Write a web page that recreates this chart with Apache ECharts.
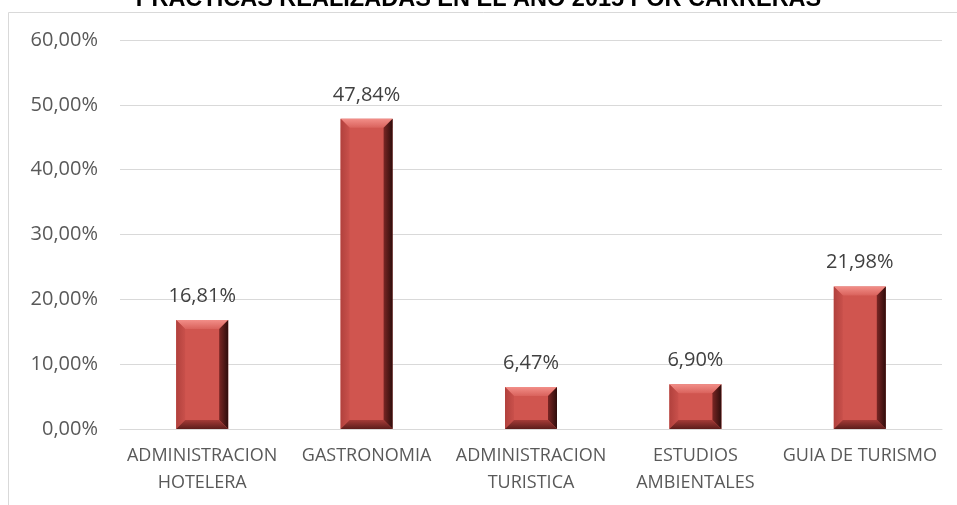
<!DOCTYPE html>
<html><head><meta charset="utf-8">
<script src="https://cdn.jsdelivr.net/npm/echarts@6/dist/echarts.min.js"></script>
<style>html,body{margin:0;padding:0;background:#fff}#c{width:957px;height:505px}</style>
</head><body><div id="c"></div>
<script>
const titleText = 'PRACTICAS REALIZADAS EN EL AÑO 2015 POR CARRERAS';
const categories = ['ADMINISTRACION\nHOTELERA', 'GASTRONOMIA', 'ADMINISTRACION\nTURISTICA', 'ESTUDIOS\nAMBIENTALES', 'GUIA DE TURISMO'];
const values = [16.81, 47.84, 6.47, 6.90, 21.98];
const yTicks = [0, 10, 20, 30, 40, 50, 60];

const fmt = v => v.toFixed(2).replace('.', ',') + '%';
const BW = 52, BV = 9;
function renderBevelBar(params, api) {
  const top = api.coord([api.value(0), api.value(1)]);
  const bot = api.coord([api.value(0), 0]);
  const x0 = top[0] - BW / 2, x1 = top[0] + BW / 2, y0 = top[1], y1 = bot[1];
  const b = Math.min(BV, (y1 - y0) / 2);
  const lg = (x2, y2, stops) => new echarts.graphic.LinearGradient(0, 0, x2, y2, stops.map((c, i) => ({ offset: i / (stops.length - 1), color: c })));
  const poly = (pts, fill) => ({ type: 'polygon', shape: { points: pts }, style: { fill: fill } });
  return { type: 'group', children: [
    { type: 'rect', shape: { x: x0, y: y0, width: BW, height: y1 - y0 }, style: { fill: '#d0554f' } },
    poly([[x0, y0], [x1, y0], [x1 - b, y0 + b], [x0 + b, y0 + b]], lg(0, 1, ['#f28e88', '#d9625c'])),
    poly([[x0, y0], [x0 + b, y0 + b], [x0 + b, y1 - b], [x0, y1]], lg(1, 0, ['#b1413d', '#c9504b'])),
    poly([[x1, y0], [x1, y1], [x1 - b, y1 - b], [x1 - b, y0 + b]], lg(1, 0, ['#7a2624', '#2e0d0c'])),
    poly([[x0, y1], [x0 + b, y1 - b], [x1 - b, y1 - b], [x1, y1]], lg(0, 1, ['#a53b37', '#5c1d1b']))
  ]};
}

const chart = echarts.init(document.getElementById('c'));
chart.setOption({
  animation: false,
  title: { text: titleText, left: 'center', top: -17,
    textStyle: { fontFamily: 'Liberation Sans', fontWeight: 'bold', fontSize: 23.5, color: '#000' } },
  graphic: [{ type: 'rect', shape: { x: 8.5, y: 12.5, width: 960, height: 500 },
    style: { fill: 'none', stroke: '#d9d9d9', lineWidth: 1 }, z: -1 }],
  grid: { left: 120, right: 15, top: 40, bottom: 76 },
  xAxis: { type: 'category', data: categories,
    axisLine: { lineStyle: { color: '#d9d9d9' } }, axisTick: { show: false },
    axisLabel: { color: '#595959', fontFamily: 'Open Sans', fontSize: 18, lineHeight: 27, margin: 13, interval: 0 } },
  yAxis: { type: 'value', min: yTicks[0], max: yTicks[yTicks.length - 1], interval: 10,
    axisLine: { show: false }, axisTick: { show: false },
    splitLine: { lineStyle: { color: '#d9d9d9' } },
    axisLabel: { color: '#595959', fontFamily: 'Open Sans', fontSize: 20, margin: 22, formatter: v => fmt(v) } },
  series: [
    { type: 'bar', data: values, barWidth: BW, itemStyle: { color: 'rgba(0,0,0,0)' },
      label: { show: true, position: 'top', distance: 14, color: '#404040', fontFamily: 'Open Sans', fontSize: 20,
        formatter: p => fmt(p.value) } },
    { type: 'custom', renderItem: renderBevelBar, data: values.map((v, i) => [i, v]), z: 3 }
  ]
});
</script></body></html>
